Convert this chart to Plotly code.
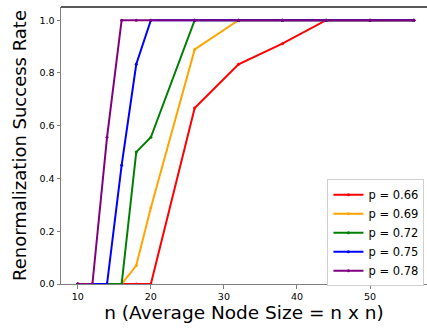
import plotly.graph_objects as go

n_values = [10, 12, 14, 16, 18, 20, 26, 32, 38, 44, 50, 56]
p_labels = ["p = 0.66", "p = 0.69", "p = 0.72", "p = 0.75", "p = 0.78"]
rate_066 = [0, 0, 0, 0, 0, 0, 0.667, 0.833, 0.911, 1, 1, 1]
rate_069 = [0, 0, 0, 0, 0.07, 0.289, 0.889, 1, 1, 1, 1, 1]
rate_072 = [0, 0, 0, 0, 0.5, 0.556, 1, 1, 1, 1, 1, 1]
rate_075 = [0, 0, 0, 0.45, 0.833, 1, 1, 1, 1, 1, 1, 1]
rate_078 = [0, 0, 0.556, 1, 1, 1, 1, 1, 1, 1, 1, 1]
series = [rate_066, rate_069, rate_072, rate_075, rate_078]
colors = ["red", "orange", "green", "blue", "purple"]

fig = go.Figure()
for lab, ys, c in zip(p_labels, series, colors):
    fig.add_trace(go.Scatter(
        x=n_values, y=ys, mode="lines+markers", name=lab,
        line=dict(color=c, width=2), marker=dict(color=c, size=3, symbol="circle"),
    ))

font = "DejaVu Sans, sans-serif"
fig.update_layout(
    width=427, height=329,
    margin=dict(l=61, r=0, t=7, b=44.5, autoexpand=False),
    paper_bgcolor="white", plot_bgcolor="white",
    font=dict(family=font, color="black"),
    showlegend=True,
    legend=dict(
        x=0.993, y=0.378, xanchor="right", yanchor="top",
        bgcolor="white", bordercolor="#d0d0d0", borderwidth=1,
        font=dict(size=11.5, family=font), tracegroupgap=0,
        itemwidth=30,
    ),
    xaxis=dict(
        range=[7.7, 57.8], tickvals=[10, 20, 30, 40, 50],
        showgrid=False, zeroline=False, showline=True, linecolor="#808080", linewidth=1,
        ticks="outside", ticklen=3.5, tickcolor="#808080",
        tickfont=dict(size=9.5, family=font),
        title=dict(text="n (Average Node Size = n x n)", font=dict(size=18.5, family=font), standoff=4),
    ),
    yaxis=dict(
        range=[0, 1.05], tickvals=[0, 0.2, 0.4, 0.6, 0.8, 1.0],
        ticktext=["0.0", "0.2", "0.4", "0.6", "0.8", "1.0"],
        showgrid=False, zeroline=False, showline=True, linecolor="#808080", linewidth=1,
        ticks="outside", ticklen=3.5, tickcolor="#808080",
        tickfont=dict(size=9.5, family=font),
        title=dict(text="Renormalization Success Rate", font=dict(size=18, family=font), standoff=8),
    ),
)
fig.add_shape(type="line", xref="paper", yref="paper", x0=0, x1=1, y0=1, y1=1,
              line=dict(color="#222", width=1.5))
fig.write_html("out.html", config={"displayModeBar": False},
               post_script="document.body.style.margin='0px';")
